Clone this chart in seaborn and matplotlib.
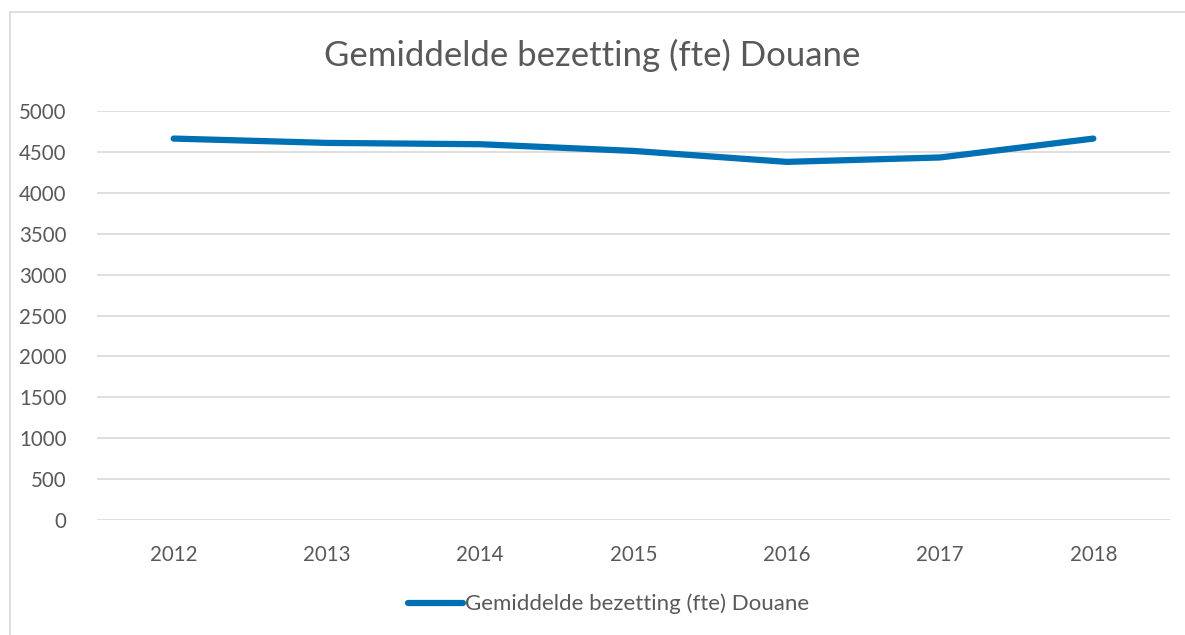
import matplotlib
matplotlib.use("Agg")
import matplotlib.pyplot as plt
import seaborn as sns
import pandas as pd
from matplotlib.patches import Rectangle

# data
jaren = ["2012", "2013", "2014", "2015", "2016", "2017", "2018"]
fte = [4663, 4610, 4594, 4512, 4378, 4432, 4663]
reeks = "Gemiddelde bezetting (fte) Douane"

df = pd.DataFrame({"jaar": jaren, "fte": fte, "reeks": reeks})

sns.set_style("white")
plt.rcParams["font.family"] = ["Lato", "DejaVu Sans"]
tekst = "#595959"

fig = plt.figure(figsize=(11.85, 6.35), dpi=100)
ax = fig.add_axes([97 / 1185, 1 - 520 / 635, (1170 - 97) / 1185, (520 - 111) / 635])

sns.lineplot(data=df, x="jaar", y="fte", hue="reeks", palette=["#0070B4"],
             linewidth=4.5, ax=ax, legend=False, sort=False)

ax.set_xlim(-0.5, 6.5)
ax.set_ylim(0, 5000)
ax.set_yticks(range(0, 5001, 500))
ax.grid(axis="y", color="#D9D9D9", linewidth=1.2)
ax.set_axisbelow(True)
for s in ["top", "right", "left", "bottom"]:
    ax.spines[s].set_visible(False)
ax.tick_params(axis="both", length=0, labelsize=14.8, colors=tekst)
ax.tick_params(axis="x", pad=18)
ax.tick_params(axis="y", pad=22)
ax.set_xlabel("")
ax.set_ylabel("")

fig.text(0.5, 1 - 55 / 635, reeks, ha="center", va="center", fontsize=25, color=tekst)

# legenda onderaan
handle = plt.Line2D([], [], color="#0070B4", linewidth=4.5)
fig.legend([handle], [reeks], loc="center", bbox_to_anchor=(0.5135, 1 - 604 / 635),
           frameon=False, fontsize=16, labelcolor=tekst, handlelength=2.5,
           handletextpad=0.1)

# kader rond de grafiek
fig.patches.append(Rectangle((10 / 1185, -0.05), 1.1, 1 - 12 / 635 + 0.05,
                             transform=fig.transFigure, fill=False,
                             edgecolor="#D9D9D9", linewidth=1.2))

fig.savefig("out.png", dpi=100)
